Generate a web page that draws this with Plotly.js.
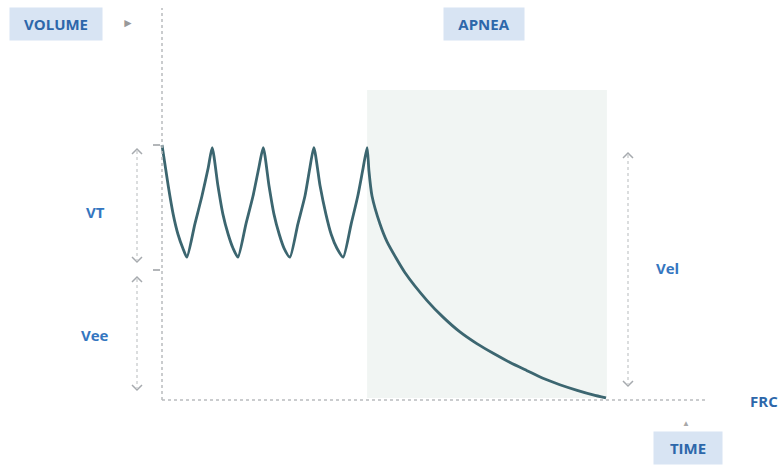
<!DOCTYPE html>
<html>
<head>
<meta charset="utf-8">
<script src="https://cdn.plot.ly/plotly-3.0.1.min.js"></script>
<style>html,body{margin:0;padding:0;background:#fff;}#chart{width:782px;height:467px;}</style>
</head>
<body>
<div id="chart"></div>
<script>
// ---- data (time in arbitrary units, volume relative to VT peak, FRC = 0) ----
const time = [0, 0.14, 0.25, 0.36, 0.47, 0.56, 0.74, 0.90, 1.04, 1.13,
  1.26, 1.37, 1.49, 1.60, 1.71, 1.89, 2.05, 2.18, 2.28,
  2.41, 2.52, 2.64, 2.75, 2.88, 3.06, 3.22, 3.33, 3.42,
  3.56, 3.69, 3.81, 3.94, 4.08, 4.26, 4.41, 4.53, 4.62,
  4.66, 4.73, 4.91, 5.07, 5.47, 5.97, 6.33, 6.71, 7.10, 7.46, 7.84, 8.22, 8.58, 8.96, 9.35, 9.71, 10.0];
const volume = [1.00, 0.84, 0.73, 0.65, 0.595, 0.56, 0.69, 0.80, 0.91, 0.99,
  0.84, 0.73, 0.65, 0.595, 0.56, 0.69, 0.80, 0.91, 0.99,
  0.84, 0.73, 0.65, 0.595, 0.56, 0.69, 0.80, 0.91, 0.99,
  0.84, 0.73, 0.65, 0.595, 0.56, 0.69, 0.80, 0.91, 0.99,
  0.90, 0.80, 0.69, 0.62, 0.50, 0.39, 0.325, 0.267, 0.22, 0.183, 0.147, 0.115, 0.085, 0.06, 0.038, 0.02, 0.008];
const apneaStart = 4.62, apneaEnd = 10.02;
const labels = {volume: 'VOLUME', apnea: 'APNEA', vt: 'VT', vee: 'Vee', vel: 'Vel', frc: 'FRC', time: 'TIME'};

// ---- pixel helpers for layout placement ----
const PX = 44.4, PY = 255, X0 = 162, Y0 = 400;
const X = p => (p - X0) / PX;
const Y = p => (Y0 - p) / PY;

const grey = '#b9bcbf', boxBg = '#d8e4f3';
const shapes = [];
// apnea shading
shapes.push({type:'rect', xref:'x', yref:'y', x0: apneaStart, x1: apneaEnd, y0: Y(398), y1: Y(90),
  fillcolor:'#f1f5f3', line:{width:0}, layer:'below'});
// axes (dotted)
shapes.push({type:'line', x0:0, x1:0, y0:0, y1:Y(8), line:{color:grey, width:1.5, dash:'dot'}});
shapes.push({type:'line', x0:0, x1:X(705), y0:0, y1:0, line:{color:grey, width:1.5, dash:'dot'}});
// ticks on y axis
[145, 270].forEach(py => shapes.push({type:'line', x0:X(153), x1:X(160), y0:Y(py), y1:Y(py), line:{color:'#9a9ea2', width:1.5}}));
// double arrows
function dbl(px, top, bot) {
  shapes.push({type:'line', x0:X(px), x1:X(px), y0:Y(top+2), y1:Y(bot-2), line:{color:'#cfd2d4', width:1.5, dash:'dot'}});
  shapes.push({type:'path', path:`M ${X(px-5)},${Y(top+5)} L ${X(px)},${Y(top)} L ${X(px+5)},${Y(top+5)}`, line:{color:'#a6aaae', width:1.5}});
  shapes.push({type:'path', path:`M ${X(px-5)},${Y(bot-5)} L ${X(px)},${Y(bot)} L ${X(px+5)},${Y(bot-5)}`, line:{color:'#a6aaae', width:1.5}});
}
dbl(137, 149, 262);
dbl(137, 277, 390);
dbl(628, 153, 386);

const boxFont = {family:'Open Sans, Liberation Sans, sans-serif', size:15, color:'#2d67aa', weight:700};
const labFont = {family:'Open Sans, Liberation Sans, sans-serif', size:15, color:'#3476c0', weight:700};
function lab(text, px, py, f, extra) {
  return Object.assign({x:X(px), y:Y(py), xref:'x', yref:'y', text:'<b>'+text+'</b>', showarrow:false, font:f}, extra||{});
}
const annotations = [
  lab(labels.volume, 56, 24, boxFont, {bgcolor:boxBg, width:90, height:30}),
  lab(labels.apnea, 484, 24, boxFont, {bgcolor:boxBg, width:78, height:30}),
  lab(labels.time, 688, 448, boxFont, {bgcolor:boxBg, width:66, height:30}),
  lab(labels.vt, 95, 212, labFont),
  lab(labels.vee, 95, 335, labFont),
  lab(labels.vel, 667, 268, labFont),
  lab(labels.frc, 764, 401, boxFont),
  {x:X(128), y:Y(22), text:'►', showarrow:false, font:{size:12, color:'#999999'}},
  {x:X(686), y:Y(422), text:'▲', showarrow:false, font:{size:8, color:'#a8a8a8'}}
];

const trace = {x: time, y: volume, type:'scatter', mode:'lines',
  line:{color:'#3c6670', width:2.8, shape:'spline', smoothing:0.6}, hoverinfo:'skip'};

const layout = {
  width:782, height:467, margin:{l:0, r:0, t:0, b:0},
  paper_bgcolor:'#ffffff', plot_bgcolor:'#ffffff', showlegend:false,
  xaxis:{range:[X(0), X(782)], visible:false, fixedrange:true},
  yaxis:{range:[Y(467), Y(0)], visible:false, fixedrange:true},
  shapes: shapes, annotations: annotations
};
Plotly.newPlot('chart', [trace], layout, {displayModeBar:false, staticPlot:true});
</script>
</body>
</html>
